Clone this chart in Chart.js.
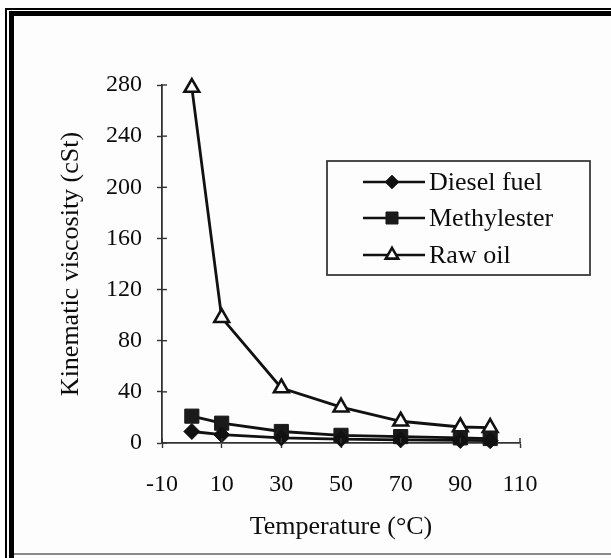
<!DOCTYPE html>
<html>
<head>
<meta charset="utf-8">
<script src="https://cdn.jsdelivr.net/npm/chart.js@4/dist/chart.umd.min.js"></script>
<style>
  html, body { margin: 0; padding: 0; background: #ffffff; }
  #wrap { position: relative; width: 611px; height: 558px; overflow: hidden; background: #fdfdfd; }
  #c { position: absolute; left: 0; top: 0; }
  .fr { position: absolute; background: #000; }
</style>
</head>
<body>
<div id="wrap">
  <canvas id="c" width="611" height="558"></canvas>
  <div class="fr" style="left:5px;top:8px;width:606px;height:1.5px;"></div>
  <div class="fr" style="left:5px;top:8px;width:1.5px;height:550px;"></div>
  <div class="fr" style="left:9px;top:11px;width:602px;height:5px;"></div>
  <div class="fr" style="left:9px;top:11px;width:5px;height:547px;"></div>
  <div class="fr" style="left:14px;top:553px;width:597px;height:2px;background:#8a8a8a;"></div>
</div>
<script>
// ---- data ----
const temperatures = [0, 10, 30, 50, 70, 90, 100];
const dieselFuel   = [9, 6.5, 4, 3, 2.5, 2, 1.8];
const methylester  = [21, 15.5, 9, 6, 5, 4, 3.5];
const rawOil       = [278, 98, 43, 28, 17, 12.5, 12];
const seriesNames  = ['Diesel fuel', 'Methylester', 'Raw oil'];
const xTickValues  = [-10, 10, 30, 50, 70, 90, 110];
const yTickValues  = [0, 40, 80, 120, 160, 200, 240, 280];
const xTitle = 'Temperature (°C)';
const yTitle = 'Kinematic viscosity (cSt)';

const toPts = (vals) => temperatures.map((t, i) => ({ x: t, y: vals[i] }));
const FONT = "'Liberation Serif', 'Times New Roman', serif";
const INK = '#0d0d0d';

// inward tick marks + in-plot legend box
const extrasPlugin = {
  id: 'extras',
  afterDraw(chart) {
    const ctx = chart.ctx;
    const xs = chart.scales.x, ys = chart.scales.y;
    ctx.save();
    ctx.strokeStyle = '#333';
    ctx.lineWidth = 1.4;
    ys.ticks.forEach(t => {
      const py = ys.getPixelForValue(t.value);
      ctx.beginPath(); ctx.moveTo(xs.left, py); ctx.lineTo(xs.left + 5, py); ctx.stroke();
    });
    xs.ticks.forEach(t => {
      const px = xs.getPixelForValue(t.value);
      ctx.beginPath(); ctx.moveTo(px, ys.bottom); ctx.lineTo(px, ys.bottom - 5); ctx.stroke();
    });
    // legend
    const bx = 327, by = 161, bw = 263, bh = 114;
    ctx.strokeStyle = '#3a3a3a';
    ctx.lineWidth = 1.8;
    ctx.strokeRect(bx, by, bw, bh);
    const rows = [182, 218, 255];
    chart.data.datasets.forEach((ds, i) => {
      const y = rows[i];
      ctx.strokeStyle = ds.borderColor;
      ctx.lineWidth = 2.6;
      ctx.beginPath(); ctx.moveTo(363, y); ctx.lineTo(425, y); ctx.stroke();
      ctx.fillStyle = ds.pointBackgroundColor;
      ctx.strokeStyle = ds.pointBorderColor;
      ctx.lineWidth = ds.pointBorderWidth;
      Chart.helpers.drawPoint(ctx, { pointStyle: ds.pointStyle, rotation: 0, radius: ds.pointRadius * 0.85, borderWidth: ds.pointBorderWidth }, 392, y);
      ctx.fillStyle = INK;
      ctx.font = "26px " + FONT;
      ctx.textBaseline = 'middle';
      ctx.textAlign = 'left';
      ctx.fillText(ds.label, 429, y + 1);
    });
    ctx.restore();
  }
};

new Chart(document.getElementById('c'), {
  type: 'line',
  data: {
    datasets: [
      { label: seriesNames[0], data: toPts(dieselFuel), borderColor: '#111', borderWidth: 2.8, clip: false,
        pointStyle: 'rectRot', pointRadius: 8, pointBackgroundColor: '#111', pointBorderColor: '#111', pointBorderWidth: 1 },
      { label: seriesNames[1], data: toPts(methylester), borderColor: '#111', borderWidth: 2.8, clip: false,
        pointStyle: 'rect', pointRadius: 10, pointBackgroundColor: '#1a1a1a', pointBorderColor: '#1a1a1a', pointBorderWidth: 1 },
      { label: seriesNames[2], data: toPts(rawOil), borderColor: '#111', borderWidth: 2.8, clip: false,
        pointStyle: 'triangle', pointRadius: 8.5, pointBackgroundColor: '#fff', pointBorderColor: '#111', pointBorderWidth: 2.6 }
    ]
  },
  options: {
    responsive: false,
    animation: false,
    events: [],
    layout: { padding: { top: 85, right: 91, bottom: 0, left: 0 } },
    plugins: { legend: { display: false }, tooltip: { enabled: false } },
    scales: {
      x: {
        type: 'linear', min: -10, max: 110,
        afterBuildTicks: (s) => { s.ticks = xTickValues.map(v => ({ value: v })); },
        afterFit: (s) => { s.height = 115; },
        grid: { drawOnChartArea: false, drawTicks: true, tickLength: 5, color: '#333', tickWidth: 1.4 },
        border: { display: true, color: '#333', width: 1.8 },
        ticks: { color: INK, font: { family: FONT, size: 24 }, padding: 22,
                 callback: (v) => String(v) },
        title: { display: true, text: xTitle, color: INK, font: { family: FONT, size: 26 },
                 padding: { top: 0, bottom: 15 } }
      },
      y: {
        type: 'linear', min: 0, max: 280,
        afterBuildTicks: (s) => { s.ticks = yTickValues.map(v => ({ value: v })); },
        afterFit: (s) => { s.width = 162; },
        grid: { drawOnChartArea: false, drawTicks: true, tickLength: 5, color: '#333', tickWidth: 1.4 },
        border: { display: true, color: '#333', width: 1.8 },
        ticks: { color: INK, font: { family: FONT, size: 24 }, padding: 15,
                 callback: (v) => String(v) },
        title: { display: true, text: yTitle, color: INK, font: { family: FONT, size: 26 },
                 padding: { top: 56, bottom: 0 } }
      }
    }
  },
  plugins: [extrasPlugin]
});
</script>
</body>
</html>
